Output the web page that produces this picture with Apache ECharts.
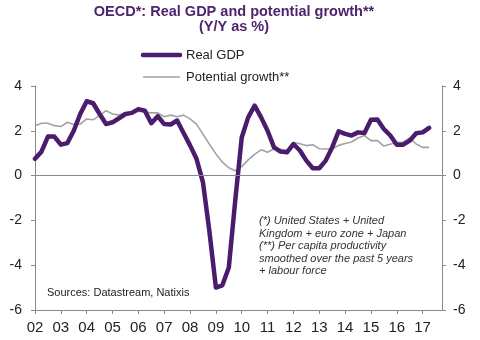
<!DOCTYPE html>
<html>
<head>
<meta charset="utf-8">
<script src="https://cdn.jsdelivr.net/npm/echarts@6/dist/echarts.min.js"></script>
<style>html,body{margin:0;padding:0;background:#fff}#c{width:480px;height:340px}</style>
</head>
<body>
<div id="c"></div>
<script>
const years = ["02","03","04","05","06","07","08","09","10","11","12","13","14","15","16","17"];
const yTicks = [-6, -4, -2, 0, 2, 4];
const seriesNames = ["Real GDP", "Potential growth**"];
const realGDP = [0.75,1.07,1.74,1.74,1.38,1.45,2.0,2.75,3.32,3.23,2.75,2.3,2.38,2.56,2.75,2.8,2.97,2.9,2.34,2.65,2.3,2.28,2.46,1.9,1.35,0.75,-0.3,-2.5,-5.0,-4.9,-4.1,-1.1,1.7,2.6,3.12,2.6,2.0,1.26,1.07,1.04,1.41,1.12,0.67,0.33,0.33,0.67,1.26,1.98,1.86,1.79,1.93,1.9,2.49,2.5,2.08,1.79,1.38,1.38,1.56,1.89,1.93,2.13];
const potential = [2.23,2.34,2.34,2.23,2.19,2.38,2.28,2.3,2.53,2.49,2.68,2.9,2.75,2.7,2.8,2.8,2.87,2.83,2.8,2.8,2.63,2.7,2.63,2.7,2.53,2.3,1.85,1.4,0.97,0.6,0.35,0.22,0.4,0.7,0.95,1.15,1.04,1.2,1.18,1.12,1.48,1.42,1.34,1.38,1.2,1.19,1.19,1.35,1.43,1.5,1.68,1.79,1.56,1.56,1.32,1.4,1.48,1.49,1.68,1.41,1.26,1.26];
const quarters = [];
years.forEach(y => { for (let q = 1; q <= 4; q++) quarters.push(y + "Q" + q); });

const FONT = "'Liberation Sans', Arial, sans-serif";
const purple = "#4B1C6E";
const grey = "#A2A2A2";
const chart = echarts.init(document.getElementById('c'), null, {renderer: 'canvas'});
const yAxisBase = {
  type: 'value', min: yTicks[0], max: yTicks[yTicks.length - 1], interval: 2,
  axisLine: {show: true, lineStyle: {color: '#888', width: 1}},
  axisTick: {show: true, length: 4, lineStyle: {color: '#888'}},
  splitLine: {show: false},
  axisLabel: {color: '#222', fontSize: 14, fontFamily: FONT}
};
chart.setOption({
  animation: false,
  backgroundColor: '#fff',
  grid: {left: 35, right: 38, top: 86, bottom: 30, containLabel: false},
  legend: {show: false},
  xAxis: {
    type: 'category', data: quarters, boundaryGap: false,
    axisLine: {show: true, onZero: false, lineStyle: {color: '#888', width: 1}},
    axisTick: {show: true, interval: 3, length: 4, lineStyle: {color: '#888'}},
    axisLabel: {interval: 3, color: '#222', fontSize: 15, fontFamily: FONT, margin: 10,
      formatter: v => v.slice(0, 2)},
    splitLine: {show: false}
  },
  yAxis: [
    Object.assign({}, yAxisBase, {position: 'left', axisLabel: Object.assign({}, yAxisBase.axisLabel, {margin: 13})}),
    Object.assign({}, yAxisBase, {position: 'right', axisLabel: Object.assign({}, yAxisBase.axisLabel, {margin: 11})})
  ],
  series: [
    {
      name: seriesNames[1], type: 'line', data: potential, symbol: 'none',
      lineStyle: {color: grey, width: 1.6}, itemStyle: {color: grey}, z: 2,
      markLine: {silent: true, symbol: 'none', label: {show: false},
        lineStyle: {color: '#888', width: 1, type: 'solid'}, data: [{yAxis: 0}]}
    },
    {
      name: seriesNames[0], type: 'line', data: realGDP, symbol: 'none',
      lineStyle: {color: purple, width: 4.5, join: 'round', cap: 'round'}, itemStyle: {color: purple}, z: 3
    }
  ],
  graphic: [
    {type: 'text', x: 234, y: 4, style: {text: 'OECD*: Real GDP and potential growth**\n(Y/Y as %)',
      fill: '#4E2470', font: "bold 14.5px " + FONT, textAlign: 'center', lineHeight: 15}},
    {type: 'line', shape: {x1: 143, y1: 55, x2: 180, y2: 55}, style: {stroke: purple, lineWidth: 4.5, lineCap: 'round'}},
    {type: 'text', x: 186, y: 55, style: {text: seriesNames[0], fill: '#222', font: "13px " + FONT, textVerticalAlign: 'middle'}},
    {type: 'line', shape: {x1: 143, y1: 77, x2: 180, y2: 77}, style: {stroke: grey, lineWidth: 1.6}},
    {type: 'text', x: 186, y: 77, style: {text: seriesNames[1], fill: '#222', font: "13px " + FONT, textVerticalAlign: 'middle'}},
    {type: 'text', x: 259, y: 215, style: {text: '(*) United States + United\nKingdom + euro zone + Japan\n(**) Per capita productivity\nsmoothed over the past 5 years\n+ labour force',
      fill: '#333', font: "italic 11px " + FONT, lineHeight: 12.5}},
    {type: 'text', x: 47, y: 287, style: {text: 'Sources: Datastream, Natixis', fill: '#222', font: "11px " + FONT}}
  ]
});
</script>
</body>
</html>
